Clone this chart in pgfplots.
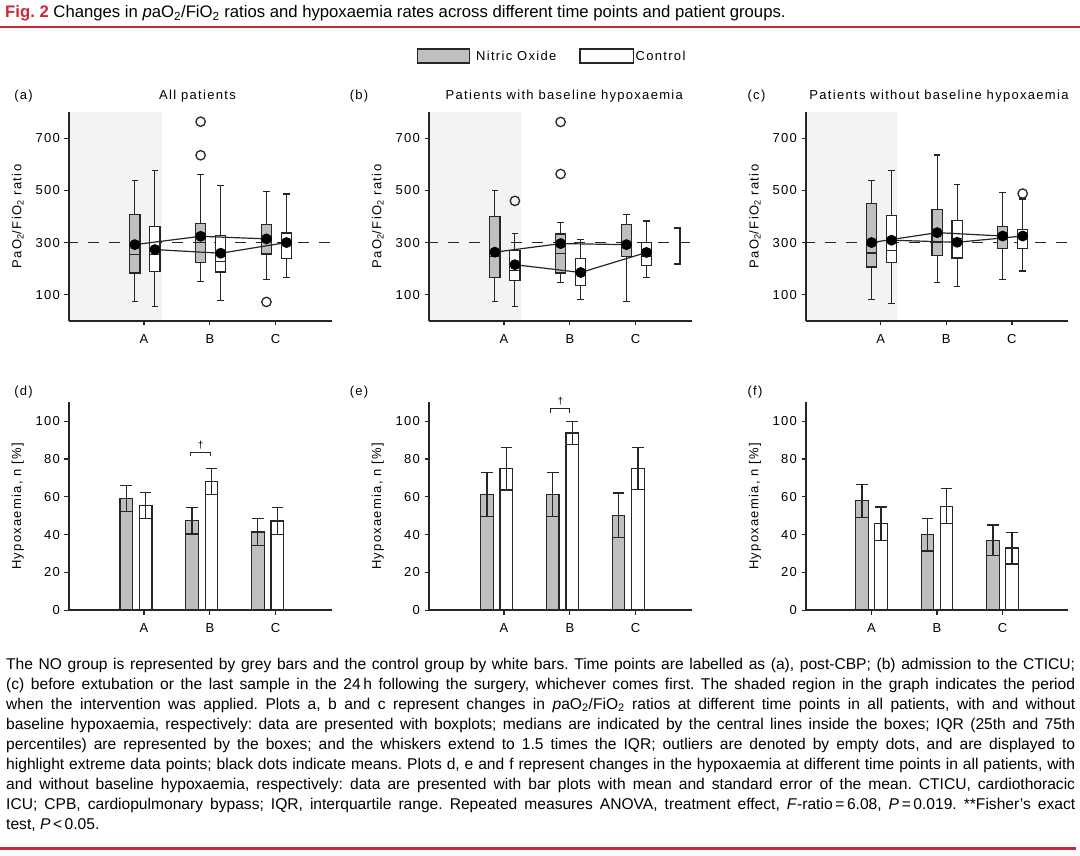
\documentclass[border=0pt]{standalone}
\usepackage{fontspec}
\setmainfont{Liberation Sans}
\newfontfamily\chartfont{Liberation Sans}[LetterSpace=10]
\newfontfamily\capfont{Liberation Sans}
\usepackage{graphicx}
\usepackage{pgfplots}
\pgfplotsset{compat=1.18}
\definecolor{figred}{RGB}{200,40,55}
\definecolor{boxgray}{RGB}{191,191,191}
\definecolor{shadegray}{RGB}{243,243,243}
\definecolor{ink}{RGB}{38,38,38}
\frenchspacing

\pgfplotsset{
  panel/.style={
    scale only axis, width=263pt, height=208.4pt, anchor=south west,
    axis lines*=left, axis line style={-, ink, line width=1.8pt},
    tick align=outside, major tick length=4.5pt,
    tick style={ink, line width=1.3pt},
    xtick={1,2,3}, xticklabels={A,B,C},
    xmin=-0.14, xmax=3.856,
    clip=false, axis on top,
    /pgf/number format/assume math mode=true,
    ylabel style={at={(axis description cs:-0.195,0.5)}, anchor=center},
    xticklabel style={yshift=-4.5pt},
  },
  toppanel/.style={panel, ymin=0, ymax=800, ytick={100,300,500,700},
     ylabel={PaO\textsubscript{2}/FiO\textsubscript{2} ratio}},
  botpanel/.style={panel, height=208pt, ymin=0, ymax=110, ytick={0,20,40,60,80,100},
     ylabel={Hypoxaemia, n [\%]}},
  outl/.style={only marks, mark=o, mark size=4.7pt, mark options={ink, line width=1.3pt, fill=none}},
  meanline/.style={ink, line width=1.2pt, mark=*, mark size=4.8pt,
     mark options={fill=black, draw=black}},
  refline/.style={ink, line width=1.3pt, dash pattern=on 11pt off 10pt, dash phase=2pt},
  shadearea/.style={fill=shadegray, draw=none},
  barbase/.style={ybar, bar width=0.19, draw=ink, line width=1.2pt},
  nobar/.style={barbase, fill=boxgray},
  ctbar/.style={barbase, fill=white},
  errbar/.style={ink, line width=1.2pt, mark=-, mark size=5.8pt, mark options={solid, line width=1.2pt}},
}
% fill, position, box left, box right, lower whisker, lower quartile, median, upper quartile, upper whisker
\newcommand{\bx}[9]{%
  \addplot[ink, line width=1.2pt, mark=-, mark size=3.3pt, mark options={solid, line width=1.2pt}] coordinates {(#2,#5) (#2,#9)};
  \addplot[ink, line width=1.2pt, fill=#1, line join=miter, line cap=rect] coordinates {(#3,#6) (#4,#6) (#4,#8) (#3,#8) (#3,#6)};
  \addplot[ink, line width=1.2pt] coordinates {(#3,#7) (#4,#7)};
}
% error bar: x, mean-SE, mean+SE
\newcommand{\eb}[3]{\addplot[errbar] coordinates {(#1,#2) (#1,#3)};}
% justified caption line (shrunk horizontally if too wide)
\newcommand{\capline}[2]{\node[anchor=base west, inner sep=0pt,
  font=\capfont\fontsize{15.6}{18}\selectfont] at (6pt,#1pt) {%
  \setbox0\hbox{#2}%
  \ifdim\wd0>1069pt\pgfmathsetmacro\sf{1069/\the\wd0}\scalebox{\sf}[1]{\box0}%
  \else\makebox[1069pt][s]{#2}\fi};}

\begin{document}
\chartfont\fontsize{13}{15}\selectfont
\begin{tikzpicture}
\useasboundingbox (0pt,0pt) rectangle (1080pt,855pt);

% ---------- title and rules ----------
\node[anchor=base west, inner sep=0pt, font=\capfont\fontsize{16.7}{19}\selectfont] at (5pt,837pt)
  {\textcolor{figred}{\bfseries Fig. 2} Changes in \textit{p}aO\textsubscript{2}/FiO\textsubscript{2} ratios and hypoxaemia rates across different time points and patient groups.};
\fill[figred] (0pt,826.5pt) rectangle (1080pt,828.5pt);
\fill[figred] (0pt,5.5pt) rectangle (1076pt,8.5pt);

% ---------- legend ----------
\draw[ink, line width=1.2pt, fill=boxgray] (417.3pt,792pt) rectangle (469.3pt,806pt);
\node[anchor=base west, inner sep=0pt] at (476pt,794.5pt) {Nitric Oxide};
\draw[ink, line width=1.2pt, fill=white] (580pt,792pt) rectangle (633.3pt,806pt);
\node[anchor=base west, inner sep=0pt] at (635.5pt,794.5pt) {Control};

% ---------- panel titles ----------
\node[anchor=base, inner sep=0pt] at (23.5pt,755pt) {(a)};
\node[anchor=base, inner sep=0pt] at (197.5pt,755pt) {All patients};
\node[anchor=base, inner sep=0pt] at (359pt,755pt) {(b)};
\node[anchor=base, inner sep=0pt] at (564.3pt,755pt) {Patients with baseline hypoxaemia};
\node[anchor=base, inner sep=0pt] at (756.5pt,755pt) {(c)};
\node[anchor=base, inner sep=0pt] at (939pt,755pt) {Patients without baseline hypoxaemia};
\node[anchor=base, inner sep=0pt] at (23.5pt,459.5pt) {(d)};
\node[anchor=base, inner sep=0pt] at (359pt,459.5pt) {(e)};
\node[anchor=base, inner sep=0pt] at (755pt,459.5pt) {(f)};

% ---------- (a) ----------
\begin{axis}[toppanel, at={(69pt,534.3pt)}]
\addplot[shadearea] coordinates {(-0.14,0) (1.27,0) (1.27,800) (-0.14,800)};
\addplot[refline] coordinates {(-0.14,300) (3.856,300)};
\bx{boxgray}{0.86}{0.7825}{0.9375}{73}{183}{254}{408}{537}
\bx{white}{1.165}{1.0875}{1.2425}{56}{188}{254}{363}{576}
\bx{boxgray}{1.86}{1.7825}{1.9375}{149}{222}{300}{373}{561}
\bx{white}{2.165}{2.0875}{2.2425}{78}{187}{226}{328}{520}
\bx{boxgray}{2.86}{2.7825}{2.9375}{158}{256}{305}{368}{495}
\bx{white}{3.165}{3.0875}{3.2425}{167}{238}{298}{337}{486}
\addplot[outl] coordinates {(1.86,764) (1.86,635) (2.86,72)};
\addplot[meanline] coordinates {(0.86,292) (1.86,324) (2.86,314)};
\addplot[meanline] coordinates {(1.165,273) (2.165,259) (3.165,300)};
\end{axis}

% ---------- (b) ----------
\begin{axis}[toppanel, at={(429pt,534.3pt)}]
\addplot[shadearea] coordinates {(-0.14,0) (1.26,0) (1.26,800) (-0.14,800)};
\addplot[refline] coordinates {(-0.14,300) (3.856,300)};
\bx{boxgray}{0.86}{0.7825}{0.9375}{73}{167}{245}{400}{501}
\bx{white}{1.165}{1.0875}{1.2425}{56}{155}{194}{270}{336}
\bx{boxgray}{1.86}{1.7825}{1.9375}{147}{183}{258}{333}{377}
\bx{white}{2.165}{2.0875}{2.2425}{82}{136}{181}{238}{312}
\bx{boxgray}{2.86}{2.7825}{2.9375}{73}{247}{290}{369}{409}
\bx{white}{3.165}{3.0875}{3.2425}{165}{212}{245}{299}{383}
\addplot[outl] coordinates {(1.165,460) (1.86,763) (1.86,563)};
\addplot[meanline] coordinates {(0.86,263) (1.86,296) (2.86,292)};
\addplot[meanline] coordinates {(1.165,215) (2.165,185) (3.165,262)};
\draw[ink, line width=1.2pt] (axis cs:3.584,356) -- (axis cs:3.675,356) -- (axis cs:3.675,218) -- (axis cs:3.584,218);
\end{axis}

% ---------- (c) ----------
\begin{axis}[toppanel, at={(806pt,534.3pt)}, width=262pt]
\addplot[shadearea] coordinates {(-0.14,0) (1.255,0) (1.255,800) (-0.14,800)};
\addplot[refline] coordinates {(-0.14,300) (3.856,300)};
\bx{boxgray}{0.86}{0.7825}{0.9375}{81}{206}{260}{450}{537}
\bx{white}{1.165}{1.0875}{1.2425}{65}{224}{270}{404}{576}
\bx{boxgray}{1.86}{1.7825}{1.9375}{147}{251}{300}{427}{636}
\bx{white}{2.165}{2.0875}{2.2425}{132}{241}{315}{386}{522}
\bx{boxgray}{2.86}{2.7825}{2.9375}{159}{277}{316}{363}{491}
\bx{white}{3.165}{3.0875}{3.2425}{191}{277}{322}{351}{467}
\addplot[outl] coordinates {(3.165,488)};
\addplot[meanline] coordinates {(0.86,300) (1.86,338) (2.86,325)};
\addplot[meanline] coordinates {(1.165,309) (2.165,301) (3.165,325)};
\end{axis}

% ---------- (d) ----------
\begin{axis}[botpanel, at={(69pt,244.7pt)}]
\addplot[bar shift=-0.27, nobar] coordinates {(1,59.2) (2,47.4) (3,41.4)};
\addplot[bar shift=0.025, ctbar] coordinates {(1,55.5) (2,68.1) (3,47.2)};
\eb{0.73}{52.2}{66.2} \eb{1.73}{40.4}{54.4} \eb{2.73}{34.4}{48.4}
\eb{1.025}{48.5}{62.5} \eb{2.025}{61.1}{75.1} \eb{3.025}{40.2}{54.2}
\draw[ink, line width=1.2pt] (axis cs:1.71,81.5) -- (axis cs:1.71,83.6) -- (axis cs:2.01,83.6) -- (axis cs:2.01,81.5);
\node[inner sep=0pt, font=\fontsize{10}{11}\selectfont] at (axis cs:1.86,87.2) {†};
\end{axis}

% ---------- (e) ----------
\begin{axis}[botpanel, at={(429pt,244.7pt)}]
\addplot[bar shift=-0.26, nobar] coordinates {(1,61.4) (2,61.3) (3,50.2)};
\addplot[bar shift=0.035, ctbar] coordinates {(1,74.8) (2,93.8) (3,75.0)};
\eb{0.74}{49.8}{73.0} \eb{1.74}{49.7}{72.9} \eb{2.74}{38.4}{62.0}
\eb{1.035}{63.6}{86.0} \eb{2.035}{87.7}{99.9} \eb{3.035}{63.9}{86.1}
\draw[ink, line width=1.2pt] (axis cs:1.71,104.6) -- (axis cs:1.71,106.7) -- (axis cs:2.0,106.7) -- (axis cs:2.0,104.6);
\node[inner sep=0pt, font=\fontsize{10}{11}\selectfont] at (axis cs:1.855,110.4) {†};
\end{axis}

% ---------- (f) ----------
\begin{axis}[botpanel, at={(806pt,244.7pt)}, width=262pt, xmin=0, xmax=4]
\addplot[bar shift=-0.145, nobar] coordinates {(1,57.9) (2,39.9) (3,37.1)};
\addplot[bar shift=0.145, ctbar] coordinates {(1,45.8) (2,55.1) (3,32.9)};
\eb{0.855}{49.1}{66.7} \eb{1.855}{31.4}{48.4} \eb{2.855}{29.1}{45.1}
\eb{1.145}{37.0}{54.6} \eb{2.145}{45.9}{64.3} \eb{3.145}{24.5}{41.3}
\end{axis}

% ---------- caption ----------
\capline{185.7}{The NO group is represented by grey bars and the control group by white bars. Time points are labelled as (a), post-CBP; (b) admission to the CTICU;}
\capline{165.7}{(c) before extubation or the last sample in the 24\,h following the surgery, whichever comes first. The shaded region in the graph indicates the period}
\capline{145.7}{when the intervention was applied. Plots a, b and c represent changes in \textit{p}aO\textsubscript{2}/FiO\textsubscript{2} ratios at different time points in all patients, with and without}
\capline{125.7}{baseline hypoxaemia, respectively: data are presented with boxplots; medians are indicated by the central lines inside the boxes; IQR (25th and 75th}
\capline{105.7}{percentiles) are represented by the boxes; and the whiskers extend to 1.5 times the IQR; outliers are denoted by empty dots, and are displayed to}
\capline{85.7}{highlight extreme data points; black dots indicate means. Plots d, e and f represent changes in the hypoxaemia at different time points in all patients, with}
\capline{65.7}{and without baseline hypoxaemia, respectively: data are presented with bar plots with mean and standard error of the mean. CTICU, cardiothoracic}
\capline{45.7}{ICU; CPB, cardiopulmonary bypass; IQR, interquartile range. Repeated measures ANOVA, treatment effect, \textit{F}-ratio\,=\,6.08, \textit{P}\,=\,0.019. **Fisher’s exact}
\node[anchor=base west, inner sep=0pt, font=\capfont\fontsize{15.6}{18}\selectfont] at (6pt,25.7pt) {test, \textit{P}\,<\,0.05.};
\end{tikzpicture}
\end{document}
